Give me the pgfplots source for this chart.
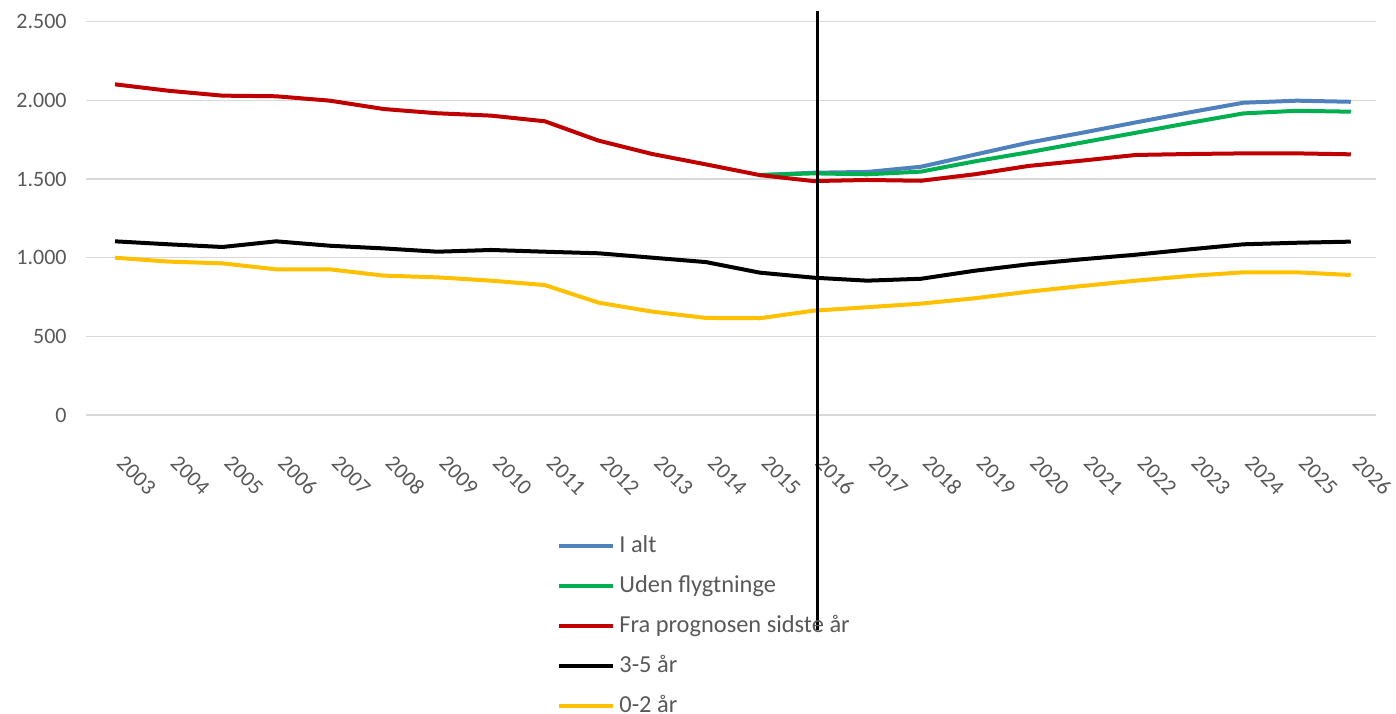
\documentclass[border=0pt]{standalone}
\usepackage{pgfplots}
\pgfplotsset{compat=1.18}
\usepackage{fontspec}
\setmainfont{Carlito}
\definecolor{txtgray}{HTML}{595959}
\definecolor{gridgray}{HTML}{D9D9D9}
\definecolor{cblue}{HTML}{4F81BD}
\definecolor{cgreen}{HTML}{00B050}
\definecolor{cred}{HTML}{C00000}
\definecolor{cyellow}{HTML}{FFC000}
\pgfplotstableread{
year red black yellow
2003 2102 1104 1000
2004 2061 1085 975
2005 2030 1068 964
2006 2026 1104 926
2007 1998 1076 926
2008 1945 1059 886
2009 1918 1038 875
2010 1903 1049 854
2011 1867 1038 826
2012 1744 1028 714
2013 1659 1000 657
2014 1593 972 617
2015 1525 905 615
2016 1487 873 663
2017 1494 854 685
2018 1489 866 708
2019 1530 917 742
2020 1583 958 784
2021 1617 990 820
2022 1653 1019 854
2023 1659 1053 884
2024 1663 1085 907
2025 1663 1095 907
2026 1657 1102 890
}\maindata
\pgfplotstableread{
year blue green
2015 1525 1525
2016 1540 1536
2017 1545 1530
2018 1578 1547
2019 1655 1612
2020 1731 1670
2021 1794 1732
2022 1860 1794
2023 1924 1857
2024 1985 1917
2025 1998 1934
2026 1991 1928
}\forecast
\begin{document}
\begin{tikzpicture}
\begin{axis}[
  scale only axis,
  width=645pt, height=196.65pt,
  xmin=2002.46, xmax=2026.47,
  ymin=0, ymax=2500,
  ytick={0,500,1000,1500,2000,2500},
  xtick={2003,...,2026},
  axis line style={draw=none},
  tick style={draw=none},
  major tick length=0pt,
  ymajorgrids,
  grid style={gridgray, line width=0.75pt},
  clip=false,
  font=\fontsize{11}{13}\selectfont,
  /pgf/number format/assume math mode=true,
  /pgf/number format/.cd, 1000 sep={.}, set thousands separator={.},
  /pgfplots/.cd,
  x tick label style={/pgf/number format/1000 sep={}},
  xticklabel style={text=txtgray, inner sep=0pt, yshift=-25pt, rotate=-45, anchor=south west},
  yticklabel style={text=txtgray, inner sep=0pt, xshift=-9.5pt, anchor=east},
  legend cell align=left,
  legend style={draw=none, fill=none, text=txtgray, at={(0.3651,-0.3038)}, anchor=north west,
    font=\fontsize{12.2}{14}\selectfont,
    row sep=8.6pt, inner sep=0pt, nodes={inner sep=0pt, text height=8.7pt, text depth=2.7pt}},
  legend image code/.code={\draw[#1, line width=2pt] (0pt,0pt) -- (27pt,0pt);},
  every axis plot/.append style={line width=2pt, line join=round},
]
\addplot[cblue, no markers] table[x=year, y=blue] {\forecast};
\addlegendentry{\hspace{2pt}I alt}
\addplot[cgreen, no markers] table[x=year, y=green] {\forecast};
\addlegendentry{\hspace{2pt}Uden flygtninge}
\addplot[cred, no markers] table[x=year, y=red] {\maindata};
\addlegendentry{\hspace{2pt}Fra prognosen sidste år}
\addplot[black, no markers] table[x=year, y=black] {\maindata};
\addlegendentry{\hspace{2pt}3-5 år}
\addplot[cyellow, no markers] table[x=year, y=yellow] {\maindata};
\addlegendentry{\hspace{2pt}0-2 år}
\draw[black, line width=1.5pt] (axis cs:2016.08,2568) -- (axis cs:2016.08,-1367);
\end{axis}
\pgfresetboundingbox
\path (-43pt,-149pt) rectangle (655pt,207.5pt);
\end{tikzpicture}
\end{document}
